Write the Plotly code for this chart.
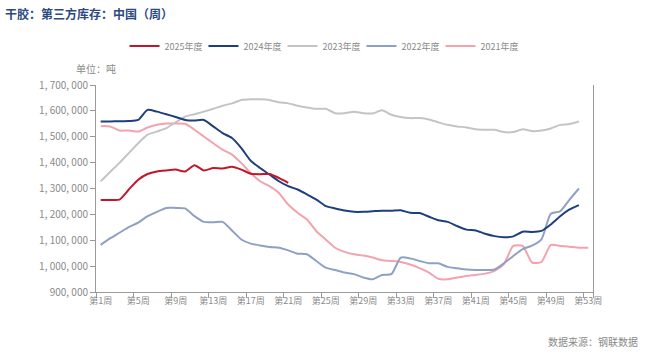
import plotly.graph_objects as go

weeks = list(range(1, 54))
tick_weeks = list(range(1, 54, 4))
tick_labels = [f"第{w}周" for w in tick_weeks]

y_ticks = list(range(900000, 1700001, 100000))
y_tick_labels = [f"{v:,}".replace(",", ", ") for v in y_ticks]

s2025 = [1256000, 1256000, 1257000, 1296000, 1334000, 1356000, 1366000, 1370000, 1373000, 1366000,
         1390000, 1370000, 1379000, 1377000, 1384000, 1373000, 1357000, 1355000, 1356000, 1341000,
         1322000]
s2024 = [1559000, 1559000, 1560000, 1561000, 1565000, 1604000, 1597000, 1587000, 1576000, 1565000,
         1563000, 1565000, 1540000, 1514000, 1495000, 1456000, 1407000, 1379000, 1354000, 1328000,
         1309000, 1296000, 1277000, 1257000, 1232000, 1223000, 1215000, 1210000, 1210000, 1212000,
         1214000, 1214000, 1216000, 1206000, 1205000, 1191000, 1177000, 1171000, 1155000, 1141000,
         1138000, 1125000, 1116000, 1112000, 1115000, 1133000, 1132000, 1136000, 1161000, 1193000,
         1219000, 1236000]
s2023 = [1328000, 1364000, 1399000, 1437000, 1475000, 1508000, 1520000, 1533000, 1556000, 1578000,
         1587000, 1597000, 1608000, 1620000, 1629000, 1642000, 1645000, 1645000, 1642000, 1633000,
         1629000, 1620000, 1613000, 1608000, 1608000, 1591000, 1591000, 1597000, 1591000, 1590000,
         1602000, 1585000, 1576000, 1572000, 1572000, 1567000, 1556000, 1546000, 1540000, 1536000,
         1529000, 1527000, 1527000, 1518000, 1518000, 1529000, 1522000, 1524000, 1532000, 1546000,
         1549000, 1559000]
s2022 = [1082000, 1107000, 1129000, 1151000, 1168000, 1193000, 1210000, 1225000, 1225000, 1223000,
         1193000, 1171000, 1170000, 1171000, 1138000, 1103000, 1087000, 1080000, 1074000, 1071000,
         1061000, 1048000, 1046000, 1020000, 994000, 985000, 975000, 969000, 956000, 949000,
         966000, 969000, 1033000, 1030000, 1020000, 1011000, 1011000, 997000, 992000, 987000,
         985000, 985000, 987000, 1011000, 1039000, 1066000, 1079000, 1103000, 1202000, 1212000,
         1257000, 1300000]
s2021 = [1541000, 1540000, 1524000, 1524000, 1520000, 1536000, 1546000, 1551000, 1551000, 1550000,
         1527000, 1501000, 1475000, 1450000, 1431000, 1398000, 1360000, 1328000, 1309000, 1283000,
         1238000, 1206000, 1180000, 1135000, 1103000, 1071000, 1055000, 1046000, 1041000, 1033000,
         1023000, 1020000, 1016000, 1006000, 992000, 975000, 951000, 949000, 956000, 962000,
         966000, 971000, 982000, 1008000, 1078000, 1078000, 1014000, 1016000, 1082000, 1078000,
         1075000, 1071000, 1071000]

series = [
    ("2021年度", s2021, "#F2A3AE"),
    ("2022年度", s2022, "#8FA1C2"),
    ("2023年度", s2023, "#C4C4C4"),
    ("2024年度", s2024, "#1E3F7E"),
    ("2025年度", s2025, "#C0182A"),
]

FONT = "Noto Sans CJK SC"
GRAY = "#8a8a8a"
AXIS = "#9a9a9a"

fig = go.Figure()
for name, vals, color in series:
    fig.add_trace(go.Scatter(
        x=weeks[:len(vals)], y=vals, name=name, mode="lines",
        line=dict(color=color, width=2, shape="spline", smoothing=0.6),
        hoverinfo="skip",
    ))

fig.update_layout(
    width=647, height=361,
    margin=dict(l=96, r=54, t=85, b=69),
    paper_bgcolor="white", plot_bgcolor="white",
    font=dict(family=FONT, size=10, color=GRAY),
    title=dict(text="干胶：第三方库存：中国（周）", x=5 / 647, xanchor="left",
               y=1 - 15 / 361, yanchor="middle", xref="container", yref="container",
               font=dict(family=FONT, size=12, color="#2B4A80", weight="bold")),
    legend=dict(orientation="h", traceorder="reversed", xref="container", yref="container",
                x=322 / 647, xanchor="center", y=1 - 46 / 361, yanchor="middle",
                font=dict(family=FONT, size=9, color=GRAY), itemwidth=30,
                entrywidth=34, entrywidthmode="pixels",
                bgcolor="rgba(0,0,0,0)"),
    showlegend=True,
)

fig.update_xaxes(
    range=[0.5, 53.5], showgrid=False, zeroline=False,
    showline=True, linecolor=AXIS, linewidth=1,
    tickmode="array", tickvals=tick_weeks, ticktext=tick_labels, ticks="",
    tickfont=dict(family=FONT, size=9, color=GRAY),
    minor=dict(tickmode="array", tickvals=[w - 0.5 for w in tick_weeks] + [53.5],
               ticks="outside", ticklen=5, tickcolor=AXIS, tickwidth=1, showgrid=False),
)
fig.update_yaxes(
    range=[900000, 1700000], showgrid=False, zeroline=False,
    showline=True, linecolor=AXIS, linewidth=1, mirror=True,
    tickmode="array", tickvals=y_ticks, ticktext=y_tick_labels,
    ticks="outside", ticklen=5, tickcolor=AXIS,
    tickfont=dict(family=FONT, size=10, color=GRAY),
)

fig.add_annotation(text="单位：吨", xref="paper", yref="paper", x=0, y=1,
                   xanchor="center", yanchor="middle", yshift=17, showarrow=False,
                   font=dict(family=FONT, size=10, color=GRAY))
fig.add_annotation(text="数据来源：钢联数据", xref="paper", yref="paper", x=1, y=0,
                   xanchor="right", yanchor="middle", xshift=47, yshift=-49, showarrow=False,
                   font=dict(family=FONT, size=10, color=GRAY))

fig.write_html("out.html", config={"displayModeBar": False},
               post_script="document.body.style.margin='0';")
